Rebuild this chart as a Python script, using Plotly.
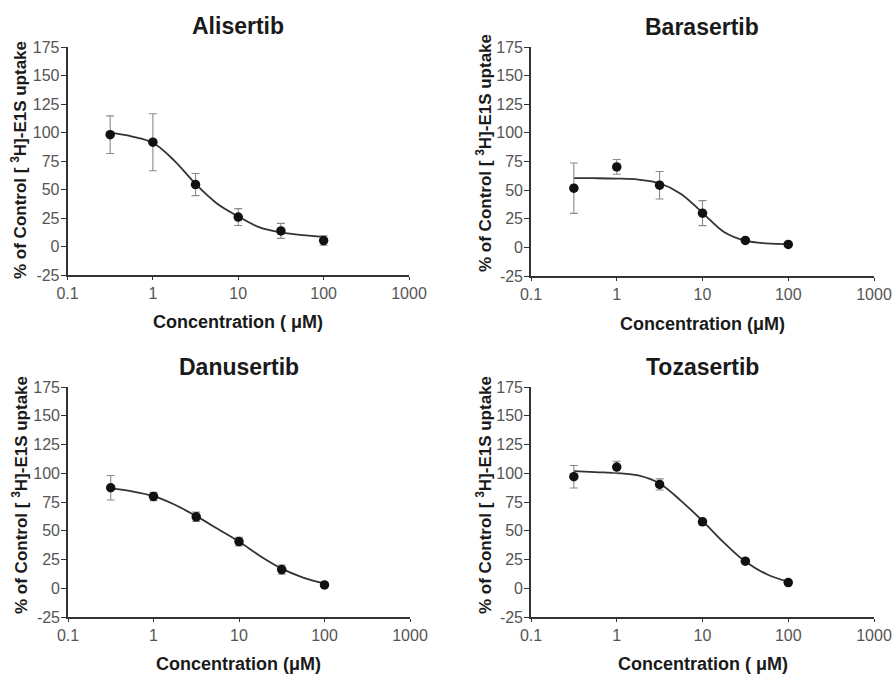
import plotly.graph_objects as go

# ---------------- data ----------------
drugs = ["Alisertib", "Barasertib", "Danusertib", "Tozasertib"]
conc = [0.316, 1, 3.16, 10, 31.6, 100]
curve_x = [0.316, 0.562, 1, 1.78, 3.16, 5.62, 10, 17.8, 31.6, 56.2, 100]

alisertib_mean = [98.1, 91.5, 54.3, 25.8, 13.7, 5.2]
alisertib_err = [16.5, 25.0, 9.7, 7.4, 6.6, 4.1]
alisertib_curve = [99.8, 96.6, 91.0, 75.4, 54.9, 37.8, 26.4, 16.7, 12.3, 9.9, 8.5]

barasertib_mean = [51.7, 70.3, 54.3, 29.9, 6.1, 2.6]
barasertib_err = [22.0, 6.4, 12.0, 10.9, 1.2, 1.0]
barasertib_curve = [60.4, 60.4, 60.1, 59.2, 56.0, 46.7, 30.2, 13.4, 5.8, 3.5, 2.9]

danusertib_mean = [87.4, 79.8, 62.1, 40.6, 16.2, 2.9]
danusertib_err = [10.7, 3.6, 4.1, 3.8, 4.0, 1.0]
danusertib_curve = [86.8, 84.2, 80.1, 72.6, 62.7, 51.7, 40.6, 27.9, 17.1, 9.3, 4.0]

tozasertib_mean = [97.0, 105.4, 90.3, 57.8, 23.5, 4.9]
tozasertib_err = [9.8, 5.0, 4.8, 2.5, 1.5, 1.0]
tozasertib_curve = [101.9, 101.0, 100.2, 98.1, 91.1, 76.0, 58.6, 39.7, 23.2, 12.2, 5.7]

x_tickvals = [0.1, 1, 10, 100, 1000]
x_ticktext = ["0.1", "1", "10", "100", "1000"]
y_tickvals = [-25, 0, 25, 50, 75, 100, 125, 150, 175]
y_ticktext = ["-25", "0", "25", "50", "75", "100", "125", "150", "175"]

x_titles = ["Concentration ( \u03bcM)", "Concentration (\u03bcM)",
            "Concentration (\u03bcM)", "Concentration ( \u03bcM)"]
y_title = "% of Control [ <sup>3</sup>H]-E1S uptake"

means = [alisertib_mean, barasertib_mean, danusertib_mean, tozasertib_mean]
errs = [alisertib_err, barasertib_err, danusertib_err, tozasertib_err]
curves = [alisertib_curve, barasertib_curve, danusertib_curve, tozasertib_curve]

# ---------------- layout geometry (pixels) ----------------
W, H = 894, 676
# plot boxes: (left, right, top, bottom) in pixels
boxes = [(67.5, 409, 47, 275), (531, 874, 47, 276),
         (68, 410, 387, 617), (531, 874, 387, 617)]
title_pos = [(237.5, 26), (702, 27), (239, 367), (702, 367)]
xtitle_pos = [(237.5, 322), (702.5, 324), (238, 664), (702.5, 664)]
ytitle_pos = [(19, 160), (484, 153), (20, 495), (484, 495)]

AX = "#333333"
TICKC = "#555555"
FONT = "Liberation Sans, Arial, sans-serif"

fig = go.Figure()
layout = dict(width=W, height=H, margin=dict(l=0, r=0, t=0, b=0, pad=0),
              template="none", paper_bgcolor="white", plot_bgcolor="white",
              showlegend=False, annotations=[])

for i in range(4):
    sfx = "" if i == 0 else str(i + 1)
    xa, ya = "x" + sfx, "y" + sfx
    l, r, t, b = boxes[i]
    layout["xaxis" + sfx] = dict(
        type="log", range=[-1, 3], domain=[l / W, r / W], anchor=ya,
        automargin=False,
        tickvals=x_tickvals, ticktext=x_ticktext, ticks="outside", ticklen=3,
        tickwidth=1.2, tickcolor=AX, showline=True, linecolor=AX, linewidth=1.6,
        showgrid=False, zeroline=False,
        tickfont=dict(family=FONT, size=16, color=TICKC), ticklabelstandoff=0)
    layout["yaxis" + sfx] = dict(
        range=[-25, 175], domain=[1 - b / H, 1 - t / H], anchor=xa,
        automargin=False,
        tickvals=y_tickvals, ticktext=y_ticktext, ticks="outside", ticklen=5,
        tickwidth=1.2, tickcolor=AX, showline=True, linecolor=AX, linewidth=1.6,
        showgrid=False, zeroline=False,
        tickfont=dict(family=FONT, size=16, color=TICKC), ticklabelstandoff=-2)

    fig.add_trace(go.Scatter(
        x=curve_x, y=curves[i], mode="lines", xaxis=xa, yaxis=ya,
        line=dict(color="#333333", width=1.8, shape="spline", smoothing=1.0),
        hoverinfo="skip"))
    fig.add_trace(go.Scatter(
        x=conc, y=means[i], mode="markers", xaxis=xa, yaxis=ya,
        marker=dict(color="#111111", size=9.5),
        error_y=dict(type="data", array=errs[i], visible=True,
                     color="#8a8a8a", thickness=1.1, width=4)))

    tx, ty = title_pos[i]
    layout["annotations"].append(dict(
        text="<b>%s</b>" % drugs[i], x=tx / W, y=1 - ty / H, xref="paper",
        yref="paper", showarrow=False, xanchor="center", yanchor="middle",
        font=dict(family=FONT, size=23, color="#1a1a1a")))
    cx, cy = xtitle_pos[i]
    layout["annotations"].append(dict(
        text="<b>%s</b>" % x_titles[i], x=cx / W, y=1 - cy / H, xref="paper",
        yref="paper", showarrow=False, xanchor="center", yanchor="middle",
        font=dict(family=FONT, size=18, color="#1a1a1a")))
    vx, vy = ytitle_pos[i]
    layout["annotations"].append(dict(
        text="<b>%s</b>" % y_title, x=vx / W, y=1 - vy / H, xref="paper",
        yref="paper", showarrow=False, xanchor="center", yanchor="middle",
        textangle=-90, font=dict(family=FONT, size=17, color="#1a1a1a")))

fig.update_layout(**layout)
fig.write_html(
    "out.html",
    config={"displayModeBar": False},
    post_script="document.body.style.margin='0';"
                "document.body.style.overflow='hidden';")
